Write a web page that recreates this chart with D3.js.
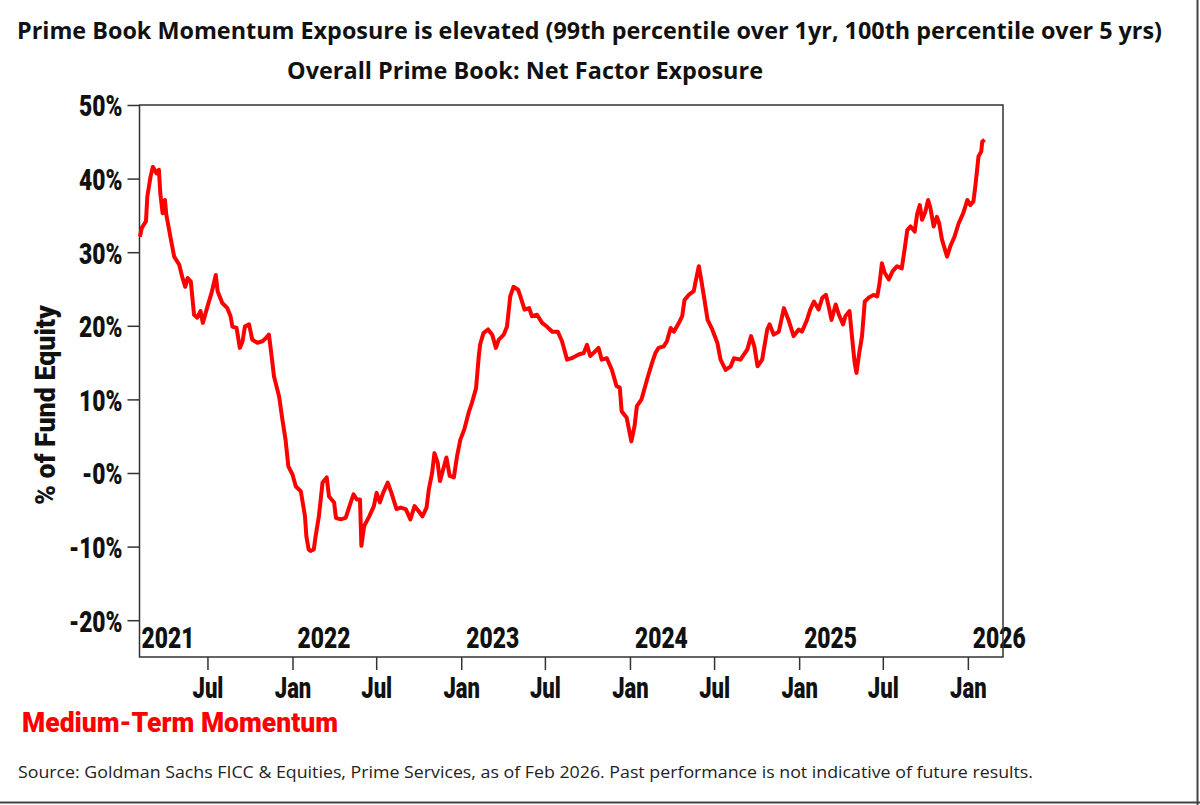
<!DOCTYPE html>
<html><head><meta charset="utf-8">
<script src="https://cdn.jsdelivr.net/npm/d3@7"></script>
<style>body{margin:0;background:#fff} svg{display:block}</style>
</head><body>
<svg id="c" width="1200" height="805"></svg>
<script>
// ---- data ----
const dates = ["2021-02-05","2021-02-09","2021-02-18","2021-02-21","2021-02-28","2021-03-05","2021-03-13","2021-03-18","2021-03-21","2021-03-26","2021-03-31","2021-04-03","2021-04-13","2021-04-20","2021-05-01","2021-05-08","2021-05-14","2021-05-19","2021-05-26","2021-06-02","2021-06-09","2021-06-16","2021-06-21","2021-07-01","2021-07-10","2021-07-19","2021-07-23","2021-08-02","2021-08-13","2021-08-20","2021-08-24","2021-09-02","2021-09-09","2021-09-15","2021-09-20","2021-09-29","2021-10-06","2021-10-17","2021-10-28","2021-11-04","2021-11-11","2021-11-15","2021-11-22","2021-12-03","2021-12-10","2021-12-17","2021-12-23","2022-01-01","2022-01-08","2022-01-19","2022-01-22","2022-01-28","2022-01-31","2022-02-05","2022-02-09","2022-02-16","2022-02-20","2022-02-27","2022-03-07","2022-03-16","2022-03-21","2022-04-01","2022-04-05","2022-04-15","2022-04-26","2022-05-07","2022-05-13","2022-05-20","2022-05-27","2022-05-30","2022-06-05","2022-06-16","2022-06-26","2022-07-02","2022-07-09","2022-07-16","2022-07-26","2022-08-03","2022-08-14","2022-08-23","2022-09-03","2022-09-13","2022-09-22","2022-10-01","2022-10-09","2022-10-18","2022-10-23","2022-10-30","2022-11-04","2022-11-11","2022-11-16","2022-11-23","2022-11-30","2022-12-07","2022-12-16","2022-12-23","2022-12-30","2023-01-08","2023-01-17","2023-01-24","2023-02-02","2023-02-08","2023-02-11","2023-02-18","2023-02-28","2023-03-09","2023-03-17","2023-03-23","2023-04-03","2023-04-10","2023-04-17","2023-04-24","2023-05-04","2023-05-09","2023-05-18","2023-05-28","2023-06-03","2023-06-14","2023-06-25","2023-07-05","2023-07-17","2023-07-29","2023-08-07","2023-08-18","2023-08-28","2023-09-12","2023-09-23","2023-09-30","2023-10-07","2023-10-14","2023-10-25","2023-11-01","2023-11-12","2023-11-23","2023-12-03","2023-12-10","2023-12-14","2023-12-25","2024-01-04","2024-01-11","2024-01-16","2024-01-26","2024-02-07","2024-02-18","2024-02-25","2024-03-03","2024-03-14","2024-03-21","2024-03-29","2024-04-05","2024-04-16","2024-04-23","2024-04-28","2024-05-07","2024-05-18","2024-05-22","2024-05-29","2024-06-03","2024-06-09","2024-06-17","2024-06-27","2024-07-08","2024-07-15","2024-07-26","2024-08-06","2024-08-13","2024-08-27","2024-09-11","2024-09-19","2024-09-26","2024-10-03","2024-10-13","2024-10-24","2024-10-29","2024-11-07","2024-11-18","2024-11-29","2024-12-09","2024-12-20","2024-12-31","2025-01-07","2025-01-18","2025-01-25","2025-02-02","2025-02-12","2025-02-20","2025-02-28","2025-03-06","2025-03-12","2025-03-21","2025-03-28","2025-04-06","2025-04-11","2025-04-20","2025-04-26","2025-05-01","2025-05-05","2025-05-11","2025-05-17","2025-05-23","2025-05-31","2025-06-11","2025-06-19","2025-06-24","2025-06-29","2025-07-05","2025-07-14","2025-07-22","2025-08-01","2025-08-11","2025-08-16","2025-08-23","2025-08-30","2025-09-08","2025-09-13","2025-09-19","2025-09-24","2025-10-01","2025-10-07","2025-10-12","2025-10-19","2025-10-26","2025-10-31","2025-11-06","2025-11-17","2025-11-24","2025-12-03","2025-12-12","2025-12-22","2025-12-31","2026-01-06","2026-01-13","2026-01-17","2026-01-21","2026-01-24","2026-01-30","2026-02-01","2026-02-06"];
const values = [32.1,33.3,34.2,37.6,40.3,41.6,40.7,41.2,38.0,35.3,37.1,35.1,31.7,29.4,28.3,26.5,25.3,26.5,26.0,21.5,21.1,22.0,20.4,22.6,24.5,26.9,24.7,23.1,22.4,21.3,19.9,19.7,17.0,17.9,19.9,20.2,18.1,17.7,17.9,18.3,18.8,16.8,13.1,10.4,7.3,4.5,0.9,-0.2,-1.8,-2.5,-3.6,-5.9,-8.6,-10.4,-10.6,-10.4,-8.6,-5.9,-1.3,-0.6,-3.2,-4.0,-6.1,-6.3,-6.1,-4.0,-2.9,-3.6,-3.6,-9.9,-7.2,-5.9,-4.5,-2.7,-4.0,-2.7,-1.3,-2.7,-4.9,-4.7,-4.9,-6.3,-4.5,-5.2,-5.9,-4.7,-2.2,0.0,2.7,1.4,-1.1,0.5,2.1,-0.4,-0.6,2.3,4.5,6.0,8.2,9.5,11.5,15.9,17.5,19.0,19.5,18.8,17.0,18.1,18.8,19.9,24.0,25.3,24.9,24.0,22.2,22.4,21.3,21.5,20.4,19.9,19.2,19.2,17.9,15.4,15.6,16.1,16.3,17.4,15.9,16.3,17.0,15.4,15.6,14.0,11.8,11.6,8.4,7.5,4.3,6.4,9.1,10.0,12.7,15.0,16.3,17.0,17.2,17.9,19.7,19.2,20.4,21.3,23.5,24.2,24.7,26.0,28.1,26.3,24.0,20.8,19.5,17.7,15.4,14.0,14.5,15.6,15.4,16.8,18.6,17.2,14.5,15.4,19.5,20.2,18.8,19.2,22.4,20.8,18.6,19.5,19.2,20.8,22.2,23.3,22.2,23.8,24.2,22.6,20.8,22.9,21.5,20.2,21.3,22.0,18.1,15.0,13.6,16.3,18.6,23.3,23.8,24.2,24.0,25.8,28.5,27.2,26.3,27.4,28.1,27.8,29.9,33.0,33.5,32.8,35.1,36.4,34.4,35.5,37.1,36.0,33.5,34.8,33.9,31.7,29.4,30.8,32.1,33.9,35.3,37.1,36.4,36.9,38.9,41.2,43.0,43.7,45.0,45.3];

const yTicks = [-20,-10,0,10,20,30,40,50];
const yTickLabels = ["-20%","-10%","-0%","10%","20%","30%","40%","50%"];
const monthTicks = ["2021-07-01","2022-01-01","2022-07-01","2023-01-01","2023-07-01","2024-01-01","2024-07-01","2025-01-01","2025-07-01","2026-01-01"];
const monthTickLabels = ["Jul","Jan","Jul","Jan","Jul","Jan","Jul","Jan","Jul","Jan"];
const yearLabels = ["2021","2022","2023","2024","2025","2026"];
const xDomain = ["2021-02-04","2026-03-18"];
const yDomain = [-25, 50];

const titleText = "Prime Book Momentum Exposure is elevated (99th percentile over 1yr, 100th percentile over 5 yrs)";
const subtitleText = "Overall Prime Book: Net Factor Exposure";
const yAxisTitle = "% of Fund Equity";
const seriesName = "Medium-Term Momentum";
const sourceText = "Source: Goldman Sachs FICC & Equities, Prime Services, as of Feb 2026. Past performance is not indicative of future results.";

// ---- drawing ----
const parse = d3.utcParse("%Y-%m-%d");
const data = dates.map((d,i)=>({date:parse(d), v:values[i]}));
const svg = d3.select("#c");
const L = 139.5, R = 1003, T = 105, B = 657;

const x = d3.scaleUtc().domain(xDomain.map(parse)).range([L, R]);
const y = d3.scaleLinear().domain(yDomain).range([B, T]);

const condFont = "Roboto, 'Liberation Sans', Arial, sans-serif";
const titleFont = "'Open Sans', 'Noto Sans', sans-serif";

function condense(sel, f){
  sel.each(function(){
    const w = this.getComputedTextLength();
    this.setAttribute("textLength", (w*f).toFixed(1));
    this.setAttribute("lengthAdjust","spacingAndGlyphs");
  });
}

// titles
svg.append("text").attr("x",17).attr("y",39).attr("font-family",titleFont).attr("font-weight",700)
  .attr("font-size",23).attr("fill","#111").attr("textLength",1145).attr("lengthAdjust","spacingAndGlyphs").text(titleText);
svg.append("text").attr("x",287).attr("y",79).attr("font-family",titleFont).attr("font-weight",700)
  .attr("font-size",24).attr("fill","#111").attr("textLength",476).attr("lengthAdjust","spacingAndGlyphs").text(subtitleText);

// y axis
const gy = svg.append("g").attr("transform",`translate(${L},0)`)
  .call(d3.axisLeft(y).tickValues(yTicks).tickFormat((d,i)=>yTickLabels[i]).tickSize(12).tickPadding(5));
gy.select(".domain").remove();
gy.selectAll(".tick line").attr("stroke","#333").attr("stroke-width",1.5);
gy.selectAll(".tick text").attr("font-family",condFont).attr("font-weight",900).attr("font-size",30).attr("fill","#111").attr("dy","0.36em");
condense(gy.selectAll(".tick text"),0.76);

// x axis
const gx = svg.append("g").attr("transform",`translate(0,${B})`)
  .call(d3.axisBottom(x).tickValues(monthTicks.map(parse)).tickFormat((d,i)=>monthTickLabels[i]).tickSize(13).tickPadding(7));
gx.select(".domain").remove();
gx.selectAll(".tick line").attr("stroke","#333").attr("stroke-width",1.5);
gx.selectAll(".tick text").attr("font-family",condFont).attr("font-weight",900).attr("font-size",29).attr("fill","#111");
condense(gx.selectAll(".tick text"),0.76);

// year labels inside plot
const yl = svg.append("g").selectAll("text").data(yearLabels).join("text")
  .attr("x",d=>Math.max(L+2, x(parse(d+"-01-01"))+5))
  .attr("y",648)
  .attr("font-family",condFont).attr("font-weight",900).attr("font-size",30).attr("fill","#111")
  .text(d=>d);
condense(yl,0.76);

// frame
svg.append("rect").attr("x",L).attr("y",T).attr("width",R-L).attr("height",B-T)
  .attr("fill","none").attr("stroke","#333").attr("stroke-width",1.5);

// line
svg.append("path").datum(data)
  .attr("d", d3.line().x(d=>x(d.date)).y(d=>y(d.v)))
  .attr("fill","none").attr("stroke","#ff0000").attr("stroke-width",4).attr("stroke-linejoin","round");

// y axis title
svg.append("text").attr("transform","translate(55,405) rotate(-90)").attr("text-anchor","middle")
  .attr("font-family",condFont).attr("font-weight",900).attr("font-size",27).attr("fill","#111")
  .attr("textLength",200).attr("lengthAdjust","spacingAndGlyphs").text(yAxisTitle);

// legend label
svg.append("text").attr("x",22).attr("y",732).attr("font-family",condFont).attr("font-weight",900)
  .attr("font-size",28).attr("fill","#ff0000").attr("textLength",316).attr("lengthAdjust","spacingAndGlyphs").text(seriesName);

// source
svg.append("text").attr("x",18).attr("y",778).attr("font-family",titleFont).attr("font-weight",400)
  .attr("font-size",16).attr("fill","#222").attr("textLength",1015).attr("lengthAdjust","spacingAndGlyphs").text(sourceText);

// outer border (right & bottom)
svg.append("line").attr("x1",1197.5).attr("x2",1197.5).attr("y1",0).attr("y2",805).attr("stroke","#444").attr("stroke-width",2);
svg.append("line").attr("x1",0).attr("x2",1200).attr("y1",802.5).attr("y2",802.5).attr("stroke","#444").attr("stroke-width",2);
</script>
</body></html>
